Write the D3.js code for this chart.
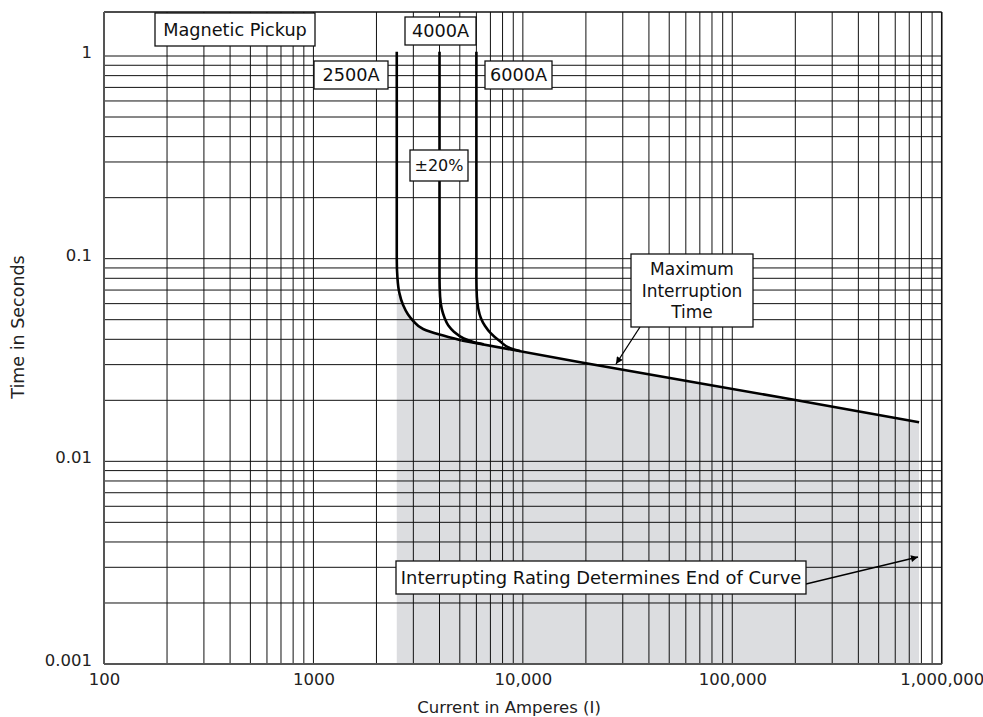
<!DOCTYPE html>
<html>
<head>
<meta charset="utf-8">
<script src="https://cdn.jsdelivr.net/npm/d3@7"></script>
<style>
  html, body { margin: 0; padding: 0; background: #fff; }
  svg { display: block; font-family: "DejaVu Sans", Verdana, sans-serif; }
</style>
</head>
<body>
<svg id="chart" width="983" height="717"></svg>
<script>
// Axis ticks
const xTicks = [100, 1000, 10000, 100000, 1000000];
const xTickLabels = ["100", "1000", "10,000", "100,000", "1,000,000"];
const yTicks = [0.001, 0.01, 0.1, 1];
const yTickLabels = ["0.001", "0.01", "0.1", "1"];

// Trip curves: [current (A), time (s)]
const pickup2500 = [[2500, 1.05], [2500, 0.10], [2520, 0.08], [2570, 0.068], [2680, 0.059],
  [2830, 0.053], [2990, 0.0494], [3340, 0.045], [4000, 0.0422], [5100, 0.0395]];
const pickup4000 = [[4000, 1.05], [4000, 0.08], [4025, 0.065], [4100, 0.0565], [4230, 0.051],
  [4400, 0.0469], [4700, 0.0435], [5200, 0.0405], [5800, 0.0388], [6500, 0.0378]];
const pickup6000 = [[6000, 1.05], [6000, 0.08], [6030, 0.065], [6120, 0.057], [6300, 0.051],
  [6600, 0.0465], [7000, 0.043], [7800, 0.039], [8700, 0.0362], [9700, 0.035]];
const maxInterrupt = [[5100, 0.0395], [18800, 0.0308], [169000, 0.0207], [780000, 0.0156]];

// Operating band shading starts below this time
const shadeTop = 0.067;

const svg = d3.select("#chart");
const plot = { left: 104, right: 941.7, top: 12, bottom: 664 };

const x = d3.scaleLog().domain([100, 1000000]).range([plot.left, plot.right]);
const y = d3.scaleLog().domain([0.001, 1]).range([plot.bottom, 56]);

const line = d3.line().x(d => x(d[0])).y(d => y(d[1])).curve(d3.curveMonotoneY);

// Shaded region under the 2500A pickup curve and the maximum interruption time line
const envelope = pickup2500.concat(maxInterrupt.slice(1));
const last = envelope[envelope.length - 1];
svg.append("clipPath").attr("id", "shadeClip")
  .append("rect")
  .attr("x", plot.left).attr("y", y(shadeTop))
  .attr("width", plot.right - plot.left).attr("height", plot.bottom - y(shadeTop));
svg.append("path")
  .attr("clip-path", "url(#shadeClip)")
  .attr("d", line(envelope) + "L" + x(last[0]) + "," + y(0.001) + "L" + x(envelope[0][0]) + "," + y(0.001) + "Z")
  .attr("fill", "#dcdde0");

// Log grid: 1..9 in every decade
const gridX = [];
for (let d = 100; d < 1000000; d *= 10) for (let k = 1; k < 10; k++) gridX.push(d * k);
gridX.push(1000000);
const gridY = [];
for (let d = 0.001; d < 0.99; d *= 10) for (let k = 1; k < 10; k++) gridY.push(d * k);
gridY.push(1);

const grid = svg.append("g").attr("stroke", "#111").attr("stroke-width", 1);
grid.selectAll("line.gx").data(gridX).join("line")
  .attr("x1", d => x(d)).attr("x2", d => x(d))
  .attr("y1", plot.top).attr("y2", plot.bottom);
grid.selectAll("line.gy").data(gridY).join("line")
  .attr("x1", plot.left).attr("x2", plot.right)
  .attr("y1", d => y(d)).attr("y2", d => y(d));

// Frame
svg.append("line").attr("x1", plot.left).attr("x2", plot.right).attr("y1", plot.top).attr("y2", plot.top)
  .attr("stroke", "#111").attr("stroke-width", 1.5);
svg.append("line").attr("x1", plot.right).attr("x2", plot.right).attr("y1", plot.top).attr("y2", plot.bottom)
  .attr("stroke", "#111").attr("stroke-width", 1.5);
svg.append("line").attr("x1", plot.left).attr("x2", plot.left).attr("y1", plot.top).attr("y2", plot.bottom)
  .attr("stroke", "#555").attr("stroke-width", 2);
svg.append("line").attr("x1", plot.left).attr("x2", plot.right).attr("y1", plot.bottom).attr("y2", plot.bottom)
  .attr("stroke", "#555").attr("stroke-width", 2);

// Axes (labels only, grid carries the ticks)
const xAxis = d3.axisBottom(x).tickValues(xTicks).tickFormat((d, i) => xTickLabels[i]).tickSize(0).tickPadding(9);
svg.append("g").attr("transform", `translate(0,${plot.bottom})`).call(xAxis)
  .call(g => g.select(".domain").remove())
  .selectAll("text").attr("font-size", 16.5).attr("fill", "#222").attr("font-family", "DejaVu Sans");
const yAxis = d3.axisLeft(y).tickValues(yTicks).tickFormat((d, i) => yTickLabels[i]).tickSize(0).tickPadding(12);
svg.append("g").attr("transform", `translate(${plot.left},0)`).call(yAxis)
  .call(g => g.select(".domain").remove())
  .selectAll("text").attr("font-size", 16.5).attr("fill", "#222").attr("font-family", "DejaVu Sans")
  .attr("dy", "0.1em");

// Axis titles
svg.append("text").attr("x", 509).attr("y", 713).attr("text-anchor", "middle")
  .attr("font-size", 16.5).attr("fill", "#222").text("Current in Amperes (I)");
svg.append("text").attr("transform", "translate(24,327) rotate(-90)").attr("text-anchor", "middle")
  .attr("font-size", 17.5).attr("fill", "#222").text("Time in Seconds");

// Curves
const curves = svg.append("g").attr("fill", "none").attr("stroke", "#000")
  .attr("stroke-width", 2.6).attr("stroke-linejoin", "round");
[pickup2500, pickup4000, pickup6000, maxInterrupt].forEach(c => curves.append("path").attr("d", line(c)));

// Arrow marker
svg.append("defs").append("marker").attr("id", "arrow")
  .attr("viewBox", "0 0 10 10").attr("refX", 10).attr("refY", 5)
  .attr("markerWidth", 9).attr("markerHeight", 7).attr("markerUnits", "userSpaceOnUse")
  .attr("orient", "auto")
  .append("path").attr("d", "M0,0L10,5L0,10Z").attr("fill", "#000");

svg.append("line").attr("x1", 640).attr("y1", 327).attr("x2", 616).attr("y2", 364)
  .attr("stroke", "#000").attr("stroke-width", 1.3).attr("marker-end", "url(#arrow)");
svg.append("line").attr("x1", 806).attr("y1", 584).attr("x2", 918).attr("y2", 557)
  .attr("stroke", "#000").attr("stroke-width", 1.3).attr("marker-end", "url(#arrow)");

// Callout boxes
function callout(x0, y0, w, h, lines, size, lh) {
  const g = svg.append("g");
  g.append("rect").attr("x", x0).attr("y", y0).attr("width", w).attr("height", h)
    .attr("fill", "#fff").attr("stroke", "#111").attr("stroke-width", 1.3);
  const startY = y0 + h / 2 - (lines.length - 1) * lh / 2 + size * 0.36;
  lines.forEach((t, i) => g.append("text")
    .attr("x", x0 + w / 2).attr("y", startY + i * lh)
    .attr("text-anchor", "middle").attr("font-size", size).attr("fill", "#111").text(t));
}
callout(155, 13, 160, 33, ["Magnetic Pickup"], 17.7, 0);
callout(405, 17, 71, 28, ["4000A"], 17.7, 0);
callout(314, 61, 74, 28, ["2500A"], 17.7, 0);
callout(485, 61, 67, 28, ["6000A"], 17.7, 0);
callout(410, 150, 58, 31, ["±20%"], 16, 0);
callout(631, 254, 122, 73, ["Maximum", "Interruption", "Time"], 17, 21.7);
callout(396, 561, 410, 33, ["Interrupting Rating Determines End of Curve"], 17.9, 0);
</script>
</body>
</html>
